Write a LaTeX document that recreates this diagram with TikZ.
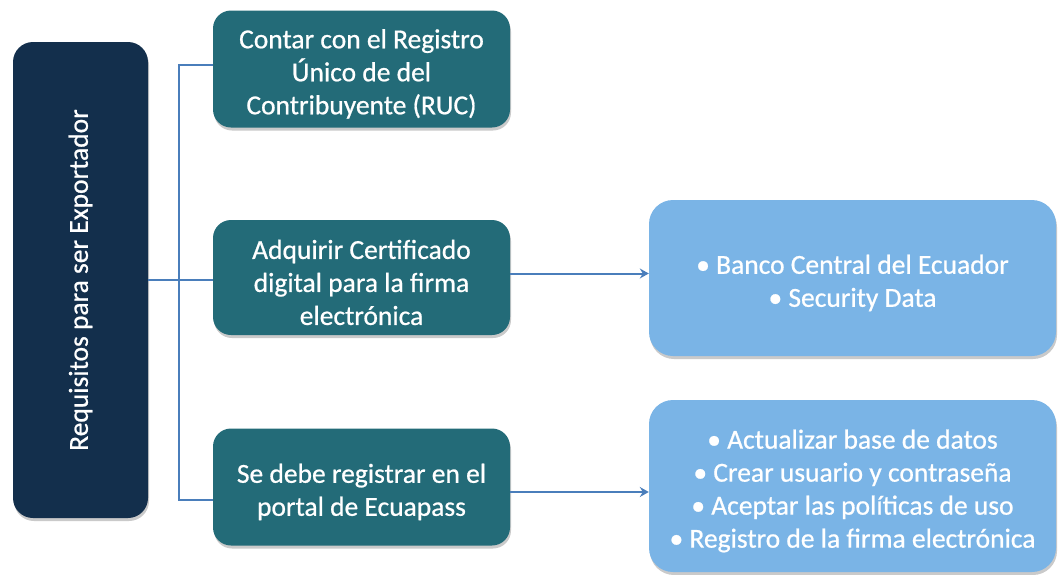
\documentclass[tikz,border=0pt]{standalone}
\usepackage{fontspec}
\setmainfont{Carlito}[FakeBold=0.7]
\usetikzlibrary{shadows,arrows.meta}
\definecolor{navy}{HTML}{132F4C}
\definecolor{teal}{HTML}{236B78}
\definecolor{lightblue}{HTML}{7AB4E6}
\definecolor{linec}{HTML}{4A7EBB}
\newcommand\mytopstrut{\rule{0pt}{29pt}}
\tikzset{
  x=1pt,y=-1pt,
  boxfont/.style={font=\fontsize{27.5}{33}\selectfont},
  boxshadow/.style={drop shadow={shadow xshift=1pt,shadow yshift=-3pt,opacity=0.35,fill=black!60}},
  leftbox/.style={draw=none,fill=navy,rounded corners=20pt,minimum width=135pt,minimum height=476pt,boxshadow},
  stepbox/.style={fill=teal,rounded corners=18pt,minimum width=297pt,minimum height=117pt,text=white,align=center,
    boxfont,boxshadow},
  infobox/.style={fill=lightblue,rounded corners=24pt,minimum width=407pt,text=white,align=center,
    boxfont,boxshadow},
  conn/.style={draw=linec,line width=2pt},
  arr/.style={draw=linec,line width=2pt,-{Stealth[length=9pt,width=10pt,inset=3pt]}},
}
\begin{document}
\begin{tikzpicture}
\useasboundingbox (0,0) rectangle (1060,574);
\node[leftbox] (req) at (80.5,280) {};
\node[rotate=90,text=white,boxfont] (reqtext) at (req.center) {Requisitos para ser Exportador};
\node[stepbox] (ruc) at (361.5,69) {\mytopstrut Contar con el Registro\\Único de del\\Contribuyente (RUC)};
\node[stepbox,minimum height=115pt] (cert) at (361.5,277.5) {\mytopstrut Adquirir Certificado\\digital para la firma\\electrónica};
\node[stepbox] (ecua) at (361.5,487) {\mytopstrut Se debe registrar en el\\portal de Ecuapass};
\node[infobox,minimum height=156pt] (bancos) at (852.5,278) {\mytopstrut • Banco Central del Ecuador\\• Security Data};
\node[infobox,minimum height=172pt] (pasos) at (852.5,486) {\mytopstrut • Actualizar base de datos\\• Crear usuario y contraseña\\• Aceptar las políticas de uso\\• Registro de la firma electrónica};
\coordinate (trunk) at (179,280);
\draw[conn] ([yshift=4pt]ruc.west) -| (trunk) |- ([yshift=-13pt]ecua.west);
\draw[conn] (req.east) -- (req.east -| cert.west);
\draw[arr] ([yshift=4pt]cert.east) -- ([yshift=4pt]cert.east -| bancos.west);
\draw[arr] ([yshift=-5pt]ecua.east) -- ([yshift=-5pt]ecua.east -| pasos.west);
\end{tikzpicture}
\end{document}
